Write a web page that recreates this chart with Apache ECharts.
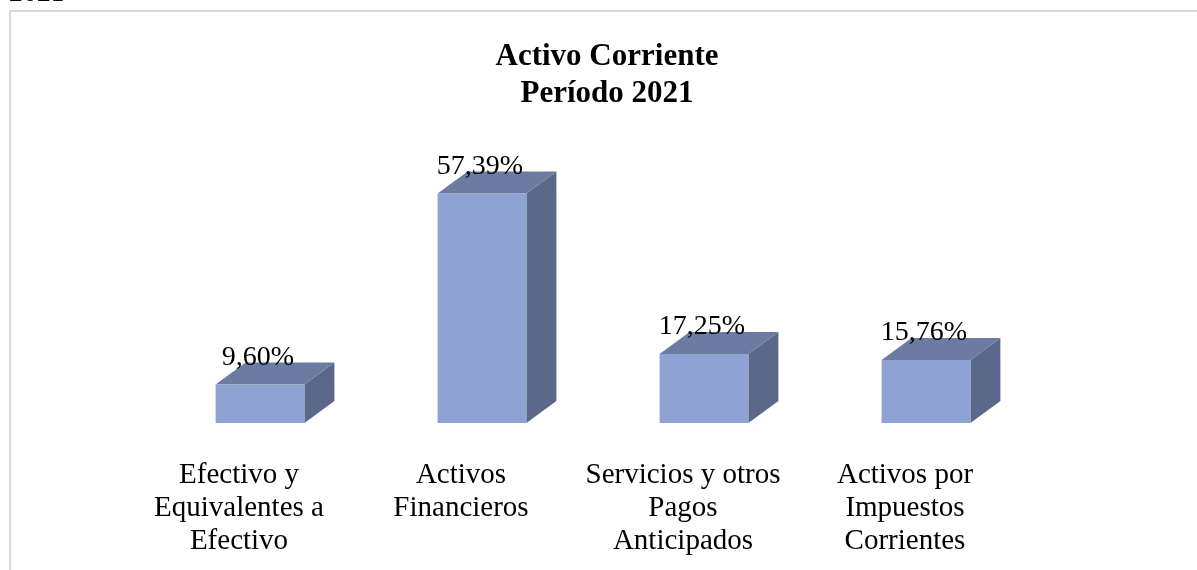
<!DOCTYPE html>
<html>
<head>
<meta charset="utf-8">
<script src="https://cdn.jsdelivr.net/npm/echarts@6/dist/echarts.min.js"></script>
<style>
  html, body { margin: 0; padding: 0; background: #fff; }
  #main { width: 1197px; height: 570px; }
</style>
</head>
<body>
<div id="main"></div>
<script>
// datos del gráfico
const categories = [
  "Efectivo y\nEquivalentes a\nEfectivo",
  "Activos\nFinancieros",
  "Servicios y otros\nPagos\nAnticipados",
  "Activos por\nImpuestos\nCorrientes",
];
const values = [9.6, 57.39, 17.25, 15.76];
const valueLabels = ["9,60%", "57,39%", "17,25%", "15,76%"];

const serif = "'Liberation Serif', 'Times New Roman', serif";
const depthX = 30;
const depthY = 22;

var chartDom = document.getElementById("main");
var myChart = echarts.init(chartDom);

// caja 3D: frente, tapa y lateral
const renderBox = (params, api) => {
  const idx = api.value(0);
  const val = api.value(1);
  const top = api.coord([idx, val]);
  const base = api.coord([idx, 0]);
  const w = api.size([1, 0])[0] * 0.4;
  const x0 = top[0] - w / 2;
  const x1 = top[0] + w / 2;
  const y0 = top[1];
  const y1 = base[1];
  return {
    type: "group",
    children: [
      {
        type: "polygon",
        shape: { points: [[x1, y0], [x1 + depthX, y0 - depthY], [x1 + depthX, y1 - depthY], [x1, y1]] },
        style: { fill: "#5b6889" },
      },
      {
        type: "polygon",
        shape: { points: [[x0, y0], [x0 + depthX, y0 - depthY], [x1 + depthX, y0 - depthY], [x1, y0]] },
        style: { fill: "#6c7ba1" },
      },
      {
        type: "rect",
        shape: { x: x0, y: y0, width: x1 - x0, height: y1 - y0 },
        style: { fill: "#8fa2d4" },
      },
      {
        type: "text",
        x: top[0] - 2,
        y: y0 - 27,
        style: {
          text: valueLabels[idx],
          fontFamily: serif,
          fontSize: 28,
          fill: "#000",
          align: "center",
          verticalAlign: "middle",
        },
      },
    ],
  };
};

var option = {
  animation: false,
  backgroundColor: "#fff",
  title: {
    text: "Activo Corriente\nPeríodo 2021",
    left: 602,
    top: 33,
    textAlign: "center",
    textStyle: {
      fontFamily: serif,
      fontWeight: "bold",
      fontSize: 31,
      lineHeight: 37,
      color: "#000",
    },
  },
  graphic: [
    {
      type: "rect",
      shape: { x: 10, y: 11, width: 1200, height: 620 },
      style: { fill: "none", stroke: "#d9d9d9", lineWidth: 2 },
    },
    {
      type: "text",
      x: 10,
      y: -6,
      style: {
        text: "2021",
        fontFamily: serif,
        fontStyle: "italic",
        fontSize: 28,
        fill: "#000",
        verticalAlign: "middle",
      },
    },
  ],
  grid: { left: 149, width: 888, top: 183, height: 240 },
  xAxis: {
    type: "category",
    data: categories,
    axisLine: { show: false },
    axisTick: { show: false },
    axisLabel: {
      interval: 0,
      margin: 36,
      fontFamily: serif,
      fontSize: 29,
      lineHeight: 33,
      color: "#000",
      padding: [0, 42, 0, 0],
    },
  },
  yAxis: {
    type: "value",
    min: 0,
    max: 60,
    show: false,
    splitLine: { show: false },
  },
  series: [
    {
      type: "custom",
      renderItem: renderBox,
      data: values.map((v, i) => [i, v]),
      clip: false,
    },
  ],
};

option && myChart.setOption(option);
</script>
</body>
</html>
